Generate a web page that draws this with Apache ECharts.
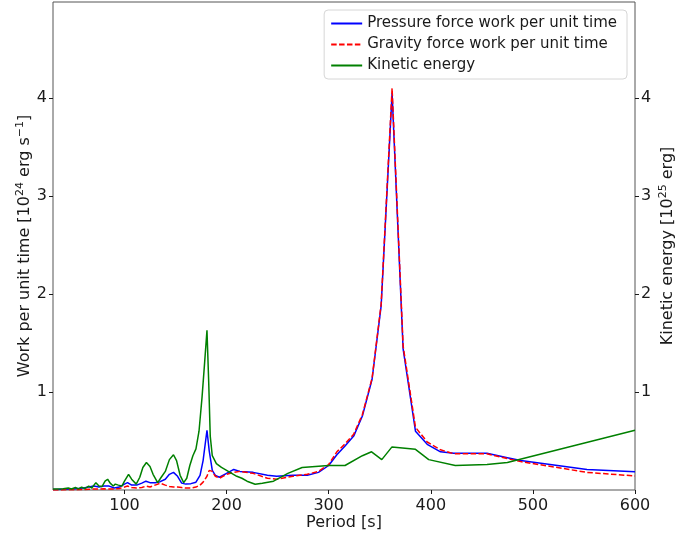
<!DOCTYPE html>
<html>
<head>
<meta charset="utf-8">
<script src="https://cdn.jsdelivr.net/npm/echarts@6/dist/echarts.min.js"></script>
<style>
  html, body { margin: 0; padding: 0; background: #fff; }
  #chart { width: 697px; height: 535px; }
</style>
</head>
<body>
<div id="chart"></div>
<script>
// Periods [s] shared by the two work-rate series
const workPeriods = [
  30, 50, 60, 65, 70, 75, 80, 85, 90, 95,
  100, 103, 107, 112, 117, 121, 125, 130, 135, 140,
  144, 148, 152, 156, 160, 165, 170, 174, 177, 180.8,
  183, 186, 189, 193, 200, 207, 213, 226, 240, 249,
  265, 279, 290, 300, 308, 316, 324.5, 333, 342.5, 351.4,
  362.1, 372.9, 385, 396.5, 409.5, 422.5, 455, 475, 488, 553, 600
];
// Pressure force work per unit time [1e24 erg/s]
const pressureWork = [
  0.005, 0.01, 0.02, 0.03, 0.04, 0.03, 0.04, 0.04, 0.02, 0.03,
  0.06, 0.075, 0.05, 0.05, 0.07, 0.09, 0.075, 0.075, 0.085, 0.11,
  0.16, 0.18, 0.14, 0.07, 0.06, 0.065, 0.08, 0.15, 0.3, 0.61,
  0.4, 0.2, 0.15, 0.13, 0.17, 0.21, 0.19, 0.18, 0.15, 0.14,
  0.15, 0.15, 0.18, 0.25, 0.36, 0.45, 0.55, 0.755, 1.13, 1.88,
  4.05, 1.44, 0.6, 0.466, 0.39, 0.375, 0.375, 0.33, 0.3, 0.21, 0.185
];
// Gravity force work per unit time [1e24 erg/s]
const gravityWork = [
  0.0, 0.003, 0.005, 0.008, 0.01, 0.01, 0.012, 0.01, 0.01, 0.015,
  0.03, 0.04, 0.025, 0.02, 0.025, 0.04, 0.03, 0.05, 0.07, 0.05,
  0.035, 0.03, 0.03, 0.025, 0.02, 0.02, 0.03, 0.05, 0.08, 0.14,
  0.2, 0.19, 0.14, 0.12, 0.16, 0.18, 0.19, 0.17, 0.12, 0.11,
  0.14, 0.16, 0.19, 0.26, 0.39, 0.47, 0.57, 0.77, 1.14, 1.9,
  4.1, 1.47, 0.64, 0.49, 0.41, 0.37, 0.37, 0.32, 0.29, 0.18, 0.143
];
// Periods [s] for the kinetic energy curve
const kineticPeriods = [
  30, 40, 45, 48, 52, 55, 58, 61, 65, 68,
  72, 75, 78, 81, 83.5, 86, 89, 91, 94, 97.5,
  100, 104, 107, 111.5, 115, 118, 121.5, 125, 128, 132.5,
  136, 140, 144, 148, 151, 154.5, 158, 161, 164, 167,
  170, 173, 176, 178.5, 180.8, 182.5, 184, 186, 190, 195,
  200, 205, 210, 215, 220, 228, 235, 246, 260, 274,
  300, 316, 333, 342, 352, 362, 385, 398, 424, 455, 475, 600
];
// Kinetic energy [1e25 erg]
const kineticEnergy = [
  0.01, 0.012, 0.02, 0.01, 0.025, 0.012, 0.03, 0.015, 0.04, 0.02,
  0.075, 0.04, 0.035, 0.09, 0.11, 0.07, 0.04, 0.06, 0.05, 0.04,
  0.09, 0.16, 0.11, 0.06, 0.13, 0.23, 0.28, 0.24, 0.16, 0.075,
  0.13, 0.19, 0.31, 0.36, 0.3, 0.15, 0.075, 0.12, 0.25, 0.35,
  0.42, 0.6, 0.95, 1.3, 1.63, 1.1, 0.55, 0.35, 0.27, 0.23,
  0.2, 0.17, 0.14, 0.12, 0.09, 0.058, 0.07, 0.09, 0.17, 0.23,
  0.25, 0.25, 0.35, 0.39, 0.31, 0.44, 0.415, 0.31, 0.25, 0.26, 0.28, 0.61
];
const periodTicks = [100, 200, 300, 400, 500, 600];
const valueTicks = [1, 2, 3, 4];

const pairs = (xs, ys) => xs.map((x, i) => [x, ys[i]]);

const FONT = 'DejaVu Sans';
const INK = '#1a1a1a';

const supRich = {
  t: { fontFamily: FONT, fontSize: 16, color: INK },
  s: { fontFamily: FONT, fontSize: 11, color: INK, padding: [0, 0, 9, 0] }
};

const yAxisBase = {
  type: 'value',
  min: 0,
  max: 4.98,
  interval: 1,
  splitLine: { show: false },
  axisLine: { show: false },
  axisTick: { show: true, length: 4, inside: false, customValues: valueTicks, lineStyle: { color: INK } },
  axisLabel: { customValues: valueTicks, color: INK, fontFamily: FONT, fontSize: 16, margin: 6 },
  nameLocation: 'middle',
  nameRotate: 90,
  nameMoveOverlap: false
};

const chart = echarts.init(document.getElementById('chart'), null, { renderer: 'canvas' });
chart.setOption({
  animation: false,
  backgroundColor: '#ffffff',
  grid: {
    left: 53, right: 62, top: 2, bottom: 45,
    containLabel: false,
    outerBoundsMode: 'none',
    show: true, borderColor: '#555555', borderWidth: 1, backgroundColor: 'transparent'
  },
  legend: {
    orient: 'vertical',
    right: 70,
    top: 10,
    itemWidth: 31,
    itemHeight: 10,
    itemGap: 6,
    padding: [6, 10, 6, 6],
    borderColor: '#d6d6d6',
    borderWidth: 1,
    borderRadius: 4,
    backgroundColor: '#ffffff',
    itemStyle: { opacity: 0 },
    textStyle: { color: INK, fontFamily: FONT, fontSize: 15 },
    data: ['Pressure force work per unit time', 'Gravity force work per unit time', 'Kinetic energy']
  },
  xAxis: {
    type: 'value',
    min: 30,
    max: 600,
    splitLine: { show: false },
    axisLine: { show: false },
    axisTick: { show: true, length: 4, customValues: periodTicks, lineStyle: { color: INK } },
    axisLabel: { customValues: periodTicks, color: INK, fontFamily: FONT, fontSize: 16, margin: 8 },
    name: 'Period [s]',
    nameLocation: 'middle',
    nameGap: 25,
    nameMoveOverlap: false,
    nameTextStyle: { color: INK, fontFamily: FONT, fontSize: 16 }
  },
  yAxis: [
    Object.assign({}, yAxisBase, {
      position: 'left',
      name: '{t|Work per unit time [10}{s|24}{t| erg s}{s|\u22121}{t|]}',
      nameGap: 18,
      nameTextStyle: { color: INK, fontFamily: FONT, fontSize: 16, rich: supRich }
    }),
    Object.assign({}, yAxisBase, {
      position: 'right',
      name: '{t|Kinetic energy [10}{s|25}{t| erg]}',
      nameGap: 23,
      nameTextStyle: { color: INK, fontFamily: FONT, fontSize: 16, rich: supRich }
    })
  ],
  series: [
    {
      name: 'Pressure force work per unit time',
      type: 'line',
      yAxisIndex: 0,
      symbol: 'none',
      data: pairs(workPeriods, pressureWork),
      lineStyle: { color: '#0000ff', width: 1.5 },
      itemStyle: { color: '#0000ff' },
      z: 3
    },
    {
      name: 'Gravity force work per unit time',
      type: 'line',
      yAxisIndex: 0,
      symbol: 'none',
      data: pairs(workPeriods, gravityWork),
      lineStyle: { color: '#ff0000', width: 1.5, type: [5.5, 2.4] },
      itemStyle: { color: '#ff0000' },
      z: 4
    },
    {
      name: 'Kinetic energy',
      type: 'line',
      yAxisIndex: 1,
      symbol: 'none',
      data: pairs(kineticPeriods, kineticEnergy),
      lineStyle: { color: '#008000', width: 1.5 },
      itemStyle: { color: '#008000' },
      z: 5
    }
  ]
});
</script>
</body>
</html>
